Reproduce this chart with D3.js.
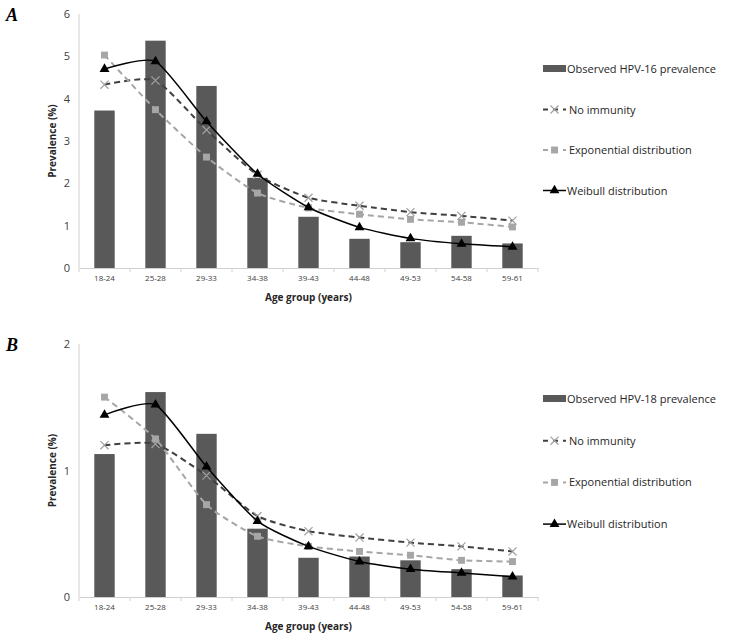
<!DOCTYPE html>
<html>
<head>
    <title>HPV prevalence by age group</title>
    <script src="https://d3js.org/d3.v7.min.js"></script>
    <style>
        body { margin: 0; background: #fff; }
        text { font-family: "Open Sans", sans-serif; }
    </style>
</head>
<body>
<script>
var ageGroups = ["18-24", "25-28", "29-33", "34-38", "39-43", "44-48", "49-53", "54-58", "59-61"];

// panel A, HPV-16
var observed16 = [3.72, 5.37, 4.30, 2.13, 1.21, 0.69, 0.61, 0.76, 0.58];
var noImmunity16 = [4.33, 4.43, 3.26, 2.20, 1.66, 1.47, 1.32, 1.23, 1.12];
var exponential16 = [5.03, 3.74, 2.62, 1.77, 1.42, 1.27, 1.15, 1.08, 0.97];
var weibull16 = [4.70, 4.88, 3.46, 2.22, 1.43, 0.96, 0.70, 0.57, 0.50];
var ticks16 = [0, 1, 2, 3, 4, 5, 6];

// panel B, HPV-18
var observed18 = [1.13, 1.62, 1.29, 0.54, 0.31, 0.32, 0.29, 0.22, 0.17];
var noImmunity18 = [1.20, 1.21, 0.96, 0.64, 0.52, 0.47, 0.43, 0.40, 0.36];
var exponential18 = [1.58, 1.25, 0.73, 0.48, 0.40, 0.36, 0.33, 0.29, 0.28];
var weibull18 = [1.44, 1.52, 1.03, 0.60, 0.40, 0.28, 0.22, 0.19, 0.16];
var ticks18 = [0, 1, 2];

var svg = d3.select("body").append("svg")
    .attr("width", 729)
    .attr("height", 635);

var x = d3.scaleBand()
    .domain(ageGroups)
    .range([79, 538])
    .paddingInner(0.6)
    .paddingOuter(0.3);

var xCenter = function(d) { return x(d) + x.bandwidth() / 2; };

var tri = d3.symbol().type(d3.symbolTriangle).size(42);
var sq = d3.symbol().type(d3.symbolSquare).size(48);
var cross = d3.symbol().type(d3.symbolX).size(44);

function drawPanel(top, bottom, label, obs, noImm, expo, weib, ticks, obsName, legGap) {
    var y = d3.scaleLinear()
        .domain([0, d3.max(ticks)])
        .range([bottom, top]);

    var g = svg.append("g");

    g.append("text")
        .attr("x", 6).attr("y", top + 7)
        .style("font-family", "'Liberation Serif', serif")
        .style("font-weight", "bold").style("font-style", "italic")
        .style("font-size", "18px")
        .text(label);

    // y axis
    g.append("line")
        .attr("x1", 79).attr("x2", 79)
        .attr("y1", y(d3.max(ticks))).attr("y2", bottom)
        .attr("stroke", "#d0d0d0");
    g.selectAll(".ytick").data(ticks).enter().append("text")
        .attr("x", 70).attr("y", function(d) { return y(d) + 4; })
        .attr("text-anchor", "end")
        .style("font-size", "11px").style("fill", "#404040")
        .text(function(d) { return d; });

    g.append("text")
        .attr("transform", "translate(56," + (top + bottom) / 2 + ") rotate(-90)")
        .attr("text-anchor", "middle")
        .style("font-size", "10px").style("font-weight", "bold").style("fill", "#262626")
        .text("Prevalence (%)");

    // bars
    g.selectAll(".bar").data(obs).enter().append("rect")
        .attr("x", function(d, i) { return x(ageGroups[i]); })
        .attr("y", function(d) { return y(d); })
        .attr("width", x.bandwidth())
        .attr("height", function(d) { return bottom - y(d); })
        .attr("fill", "#595959");

    // x axis
    var xAxis = g.append("g")
        .attr("transform", "translate(0," + bottom + ")")
        .call(d3.axisBottom(x).tickSize(0).tickPadding(7));
    xAxis.select(".domain").attr("stroke", "#d0d0d0");
    xAxis.selectAll("text").style("font-size", "8px").style("fill", "#404040")
        .style("font-family", "'Open Sans', sans-serif");
    g.selectAll(".xtick").data(d3.range(ageGroups.length + 1)).enter().append("line")
        .attr("x1", function(i) { return 79 + i * x.step(); })
        .attr("x2", function(i) { return 79 + i * x.step(); })
        .attr("y1", bottom).attr("y2", bottom + 4)
        .attr("stroke", "#d0d0d0");

    g.append("text")
        .attr("x", (79 + 538) / 2).attr("y", bottom + 33)
        .attr("text-anchor", "middle")
        .style("font-size", "10px").style("font-weight", "bold").style("fill", "#262626")
        .text("Age group (years)");

    var line = d3.line()
        .x(function(d, i) { return xCenter(ageGroups[i]); })
        .y(function(d) { return y(d); })
        .curve(d3.curveCardinal.tension(0.4));

    var series = [
        { name: "No immunity", values: noImm, stroke: "#404040", dash: "6,4", width: 2, sym: cross, mfill: "none", mstroke: "#a0a0a0" },
        { name: "Exponential distribution", values: expo, stroke: "#a6a6a6", dash: "6,4", width: 2, sym: sq, mfill: "#a6a6a6", mstroke: "none" },
        { name: "Weibull distribution", values: weib, stroke: "#000", dash: null, width: 1.5, sym: tri, mfill: "#000", mstroke: "none" }
    ];

    series.forEach(function(s) {
        g.append("path")
            .attr("d", line(s.values))
            .attr("fill", "none")
            .attr("stroke", s.stroke)
            .attr("stroke-width", s.width)
            .attr("stroke-dasharray", s.dash);
        g.selectAll(null).data(s.values).enter().append("path")
            .attr("transform", function(d, i) { return "translate(" + xCenter(ageGroups[i]) + "," + y(d) + ")"; })
            .attr("d", s.sym)
            .attr("fill", s.mfill)
            .attr("stroke", s.mstroke)
            .attr("stroke-width", 1.2);
    });

    // legend
    var ly = top + 55;
    var lg = g.append("g").attr("transform", "translate(0," + ly + ")");
    lg.append("rect").attr("x", 543).attr("y", -4).attr("width", 23).attr("height", 7).attr("fill", "#595959");
    lg.append("text").attr("x", 567).attr("y", 4)
        .style("font-size", "11px").style("fill", "#262626").text(obsName);

    series.forEach(function(s, i) {
        var yy = (i + 1) * legGap;
        lg.append("line")
            .attr("x1", 543).attr("x2", 566).attr("y1", yy).attr("y2", yy)
            .attr("stroke", s.stroke).attr("stroke-width", s.width)
            .attr("stroke-dasharray", s.dash ? "5,5" : null);
        lg.append("path")
            .attr("transform", "translate(554.5," + yy + ")")
            .attr("d", s.sym)
            .attr("fill", s.mfill).attr("stroke", s.mstroke).attr("stroke-width", 1.2);
        lg.append("text").attr("x", s.dash ? 569 : 567).attr("y", yy + 4)
            .style("font-size", "11px").style("fill", "#262626").text(s.name);
    });
}

drawPanel(14, 268, "A", observed16, noImmunity16, exponential16, weibull16, ticks16, "Observed HPV-16 prevalence", 40.5);
drawPanel(344, 597, "B", observed18, noImmunity18, exponential18, weibull18, ticks18, "Observed HPV-18 prevalence", 41.7);
</script>
</body>
</html>
